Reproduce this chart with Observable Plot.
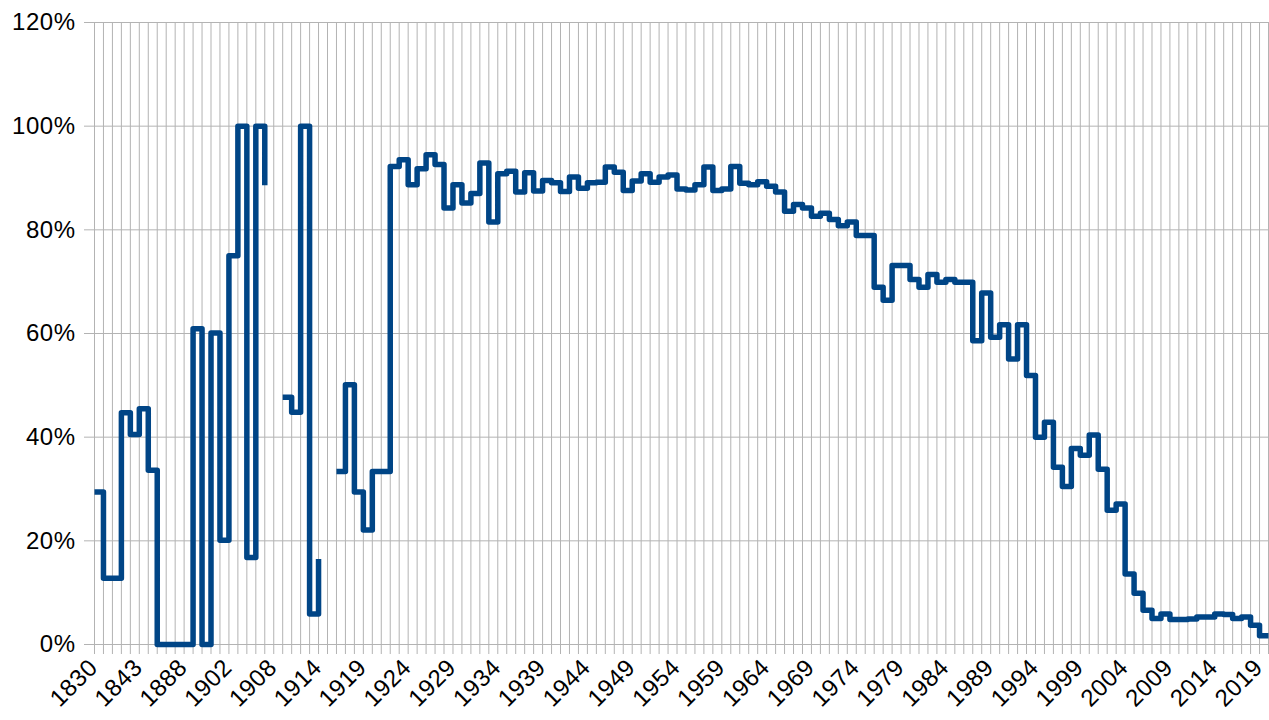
<!DOCTYPE html>
<html>
<head>
<meta charset="utf-8">
<script src="https://cdn.jsdelivr.net/npm/d3@7"></script>
<script src="https://cdn.jsdelivr.net/npm/@observablehq/plot@0.6"></script>
<style>
  html, body { margin: 0; padding: 0; background: #ffffff; }
  #chart svg { display: block; }
  #chart svg text { letter-spacing: 0.5px; }
</style>
</head>
<body>
<div id="chart"></div>
<script>
// Categories (one per step), labelled every 5th
const years = [
  1830, 1832, 1835, 1838, 1840, 1843, 1848, 1860, 1870, 1880,
  1888, 1892, 1896, 1898, 1900, 1902, 1903, 1904, 1905, 1906,
  1908, 1910, 1911, 1912, 1913, 1914, 1915, 1916, 1917, 1918,
  1919, 1920, 1921, 1922, 1923, 1924, 1925, 1926, 1927, 1928,
  1929, 1930, 1931, 1932, 1933, 1934, 1935, 1936, 1937, 1938,
  1939, 1940, 1941, 1942, 1943, 1944, 1945, 1946, 1947, 1948,
  1949, 1950, 1951, 1952, 1953, 1954, 1955, 1956, 1957, 1958,
  1959, 1960, 1961, 1962, 1963, 1964, 1965, 1966, 1967, 1968,
  1969, 1970, 1971, 1972, 1973, 1974, 1975, 1976, 1977, 1978,
  1979, 1980, 1981, 1982, 1983, 1984, 1985, 1986, 1987, 1988,
  1989, 1990, 1991, 1992, 1993, 1994, 1995, 1996, 1997, 1998,
  1999, 2000, 2001, 2002, 2003, 2004, 2005, 2006, 2007, 2008,
  2009, 2010, 2011, 2012, 2013, 2014, 2015, 2016, 2017, 2018,
  2019, 2020
];

// Share in percent (null = no data)
const shares = [
  29.4, 12.8, 12.8, 44.7, 40.5, 45.5, 33.6, 0, 0, 0,
  0, 60.9, 0, 60.1, 20.1, 75.0, 100, 16.8, 100, 88.6,
  null, 47.7, 44.8, 100, 5.9, 16.5, null, 33.4, 50.1, 29.4,
  22.1, 33.4, 33.4, 92.2, 93.5, 88.7, 91.8, 94.5, 92.6, 84.2,
  88.7, 85.2, 87.0, 92.9, 81.5, 90.8, 91.3, 87.3, 91.0, 87.5,
  89.5, 89.1, 87.4, 90.2, 88.0, 89.1, 89.2, 92.1, 91.1, 87.6,
  89.4, 90.8, 89.2, 90.2, 90.6, 87.9, 87.7, 88.7, 92.1, 87.6,
  87.9, 92.2, 89.0, 88.7, 89.3, 88.4, 87.3, 83.6, 84.9, 84.2,
  82.6, 83.2, 82.0, 80.8, 81.5, 78.9, 78.9, 68.9, 66.4, 73.1,
  73.1, 70.4, 68.9, 71.4, 69.9, 70.4, 69.9, 69.9, 58.6, 67.8,
  59.3, 61.7, 55.1, 61.7, 51.9, 40.0, 42.9, 34.2, 30.5, 37.8,
  36.5, 40.4, 33.8, 25.9, 27.1, 13.6, 9.9, 6.6, 5.0, 5.9,
  4.8, 4.8, 4.9, 5.3, 5.3, 5.9, 5.8, 5.0, 5.3, 3.7,
  1.7, 1.7
];

const yTicks = [0, 20, 40, 60, 80, 100, 120];

const data = years.map((year, i) => ({i, year, share: shares[i]}));
const idx = years.map((_, i) => i);
const labelIdx = idx.filter(i => i % 5 === 0);

const chart = Plot.plot({
  width: 1269,
  height: 720,
  marginTop: 22,
  marginBottom: 76,
  marginLeft: 94,
  marginRight: 1,
  style: {
    fontFamily: "'Liberation Sans', Arial, sans-serif",
    fontSize: "24px",
    background: "#ffffff",
    color: "#000000",
    overflow: "visible"
  },
  x: {type: "linear", domain: [0, years.length - 1]},
  y: {domain: [0, 120]},
  marks: [
    Plot.gridX(idx, {stroke: "#b3b3b3", strokeOpacity: 1, strokeWidth: 1}),
    Plot.gridY(yTicks, {stroke: "#b3b3b3", strokeOpacity: 1, strokeWidth: 1}),
    Plot.axisX(idx, {tickSize: 10, tickFormat: () => "", stroke: "#b3b3b3", label: null}),
    Plot.axisY(yTicks, {
      tickSize: 10, tickPadding: 9, tickFormat: d => d + "%",
      stroke: "#b3b3b3", fill: "#000000", fontSize: 24, label: null
    }),
    Plot.text(labelIdx, {
      x: d => d, y: () => 0,
      text: d => String(years[d]),
      rotate: -45, textAnchor: "end", lineAnchor: "middle",
      dy: 19, dx: -1, fontSize: 24, fill: "#000000"
    }),
    Plot.lineY(data, {
      x: "i", y: "share", curve: "step-after",
      stroke: "#004586", strokeWidth: 5.5,
      strokeLinecap: "butt", strokeLinejoin: "round"
    })
  ]
});

document.getElementById("chart").appendChild(chart);
</script>
</body>
</html>
